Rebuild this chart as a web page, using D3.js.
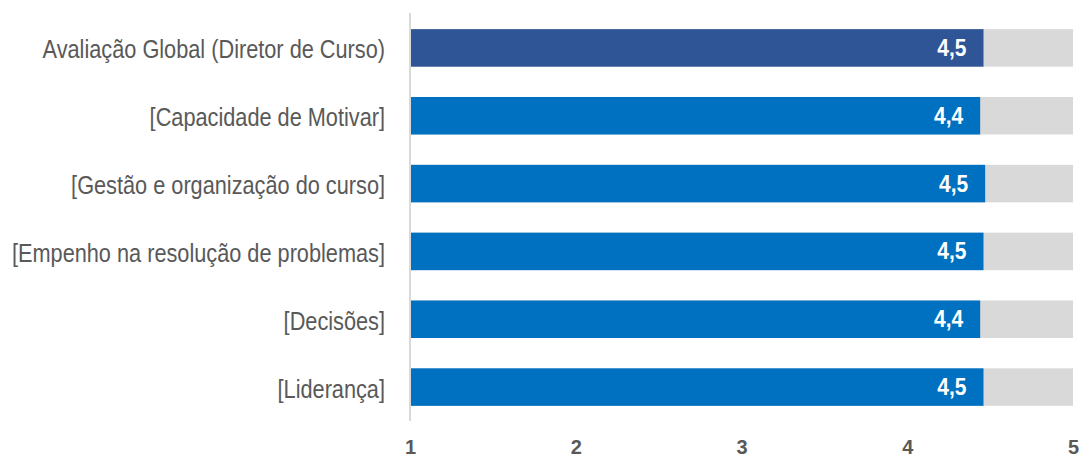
<!DOCTYPE html>
<html>
<head>
<meta charset="utf-8">
<script src="https://cdn.jsdelivr.net/npm/d3@7"></script>
<style>
  html, body { margin: 0; padding: 0; background: #fff; }
  svg { display: block; }
</style>
</head>
<body>
<svg id="chart" width="1079" height="459"></svg>
<script>
const categories = [
  "Avaliação Global (Diretor de Curso)",
  "[Capacidade de Motivar]",
  "[Gestão e organização do curso]",
  "[Empenho na resolução de problemas]",
  "[Decisões]",
  "[Liderança]"
];
const values = [4.46, 4.44, 4.47, 4.46, 4.44, 4.46];
const tickValues = [1, 2, 3, 4, 5];
const barColors = ["#2F5597", "#0070C0", "#0070C0", "#0070C0", "#0070C0", "#0070C0"];

const svg = d3.select("#chart");
const x = d3.scaleLinear().domain([1, 5]).range([410, 1073]);
const y = d3.scaleBand().domain(categories).range([14, 421]).paddingInner(0.447).paddingOuter(0.2235);

// background bars
svg.append("g").selectAll("rect").data(categories).join("rect")
  .attr("x", x(1)).attr("y", d => y(d))
  .attr("width", x(5) - x(1)).attr("height", y.bandwidth())
  .attr("fill", "#D9D9D9");

// value bars
svg.append("g").selectAll("rect").data(categories).join("rect")
  .attr("x", x(1)).attr("y", d => y(d))
  .attr("width", (d, i) => x(values[i]) - x(1)).attr("height", y.bandwidth())
  .attr("fill", (d, i) => barColors[i]);

// axis line
svg.append("line").attr("x1", 410).attr("x2", 410).attr("y1", 13).attr("y2", 421)
  .attr("stroke", "#D9D9D9").attr("stroke-width", 2);

const fmt = v => d3.format(".1f")(v).replace(".", ",");

// value labels
svg.append("g").selectAll("text").data(categories).join("text")
  .attr("transform", (d, i) => `translate(${x(values[i]) - 17},${y(d) + y.bandwidth() / 2 + 8}) scale(1,1.1)`)
  .attr("text-anchor", "end")
  .attr("font-family", "'Liberation Sans', Arial, sans-serif")
  .attr("font-weight", "bold")
  .attr("font-size", 21)
  .attr("fill", "#fff")
  .text((d, i) => fmt(values[i]));

// category labels
svg.append("g").selectAll("text").data(categories).join("text")
  .attr("transform", d => `translate(385,${y(d) + y.bandwidth() / 2 + 10.5}) scale(0.82,1)`)
  .attr("text-anchor", "end")
  .attr("font-family", "'Liberation Sans', Arial, sans-serif")
  .attr("font-size", 26.5)
  .attr("fill", "#595959")
  .text(d => d);

// x axis tick labels
const axis = d3.axisBottom(x).tickValues(tickValues).tickSize(0).tickPadding(0).tickFormat(d3.format("d"));
const ax = svg.append("g").attr("transform", "translate(0,440)").call(axis);
ax.select(".domain").remove();
ax.selectAll("text")
  .attr("dy", "0.72em")
  .attr("font-family", "'Liberation Sans', Arial, sans-serif")
  .attr("font-weight", "bold")
  .attr("font-size", 20)
  .attr("fill", "#595959");
</script>
</body>
</html>
